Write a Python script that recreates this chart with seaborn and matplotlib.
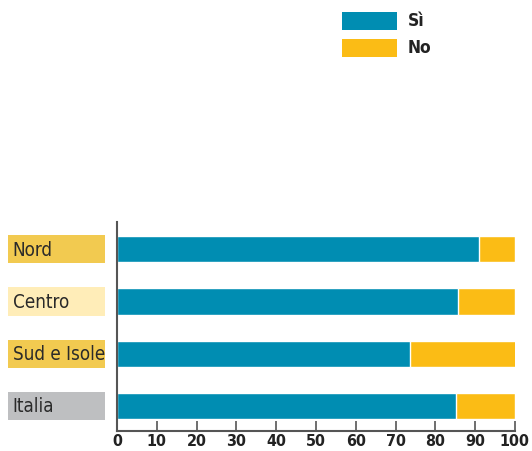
import numpy as np
import pandas as pd
import matplotlib
matplotlib.use("Agg")
import matplotlib.pyplot as plt
import matplotlib.transforms as mtransforms
from matplotlib.patches import Rectangle
import seaborn as sns

# data
regions = ["Nord", "Centro", "Sud e Isole", "Italia"]
si_values = [91.0, 85.6, 73.6, 85.1]
no_values = [9.0, 14.4, 26.6, 14.9]
label_box_colors = ["#F2CA50", "#FFEDB8", "#F2CA50", "#BEBFC1"]
x_ticks = [0, 10, 20, 30, 40, 50, 60, 70, 80, 90, 100]

blue = "#008DB2"
yellow = "#FBBC15"
axis_grey = "#555555"

sns.set_theme(style="white")
plt.rcParams["font.family"] = ["DejaVu Sans"]
plt.rcParams["font.stretch"] = "condensed"

df = pd.DataFrame({"region": regions, "si": si_values, "no": no_values})
df["total"] = df["si"] + df["no"]

fig = plt.figure(figsize=(5.32, 4.51), dpi=100)
ax = fig.add_axes([0.2199, 0.0443, 0.748, 0.4634])

# stacked bars: total first (yellow), then the Si part on top (blue)
sns.barplot(data=df, x="total", y="region", orient="h", color=yellow,
            saturation=1, width=0.5, ax=ax)
sns.barplot(data=df, x="si", y="region", orient="h", color=blue,
            saturation=1, width=0.5, ax=ax)

ax.set_xlim(0, 100)
ax.set_ylim(3.48, -0.52)
ax.set_xlabel("")
ax.set_ylabel("")
ax.set_yticks([])
ax.set_xticks(x_ticks)
ax.set_xticklabels([str(t) for t in x_ticks], fontsize=11.5, fontweight="bold",
                   color="#222222")
ax.tick_params(axis="x", direction="in", length=7, width=1.2, color=axis_grey,
               pad=2, bottom=True)

for side in ["top", "right"]:
    ax.spines[side].set_visible(False)
for side in ["left", "bottom"]:
    ax.spines[side].set_color(axis_grey)
    ax.spines[side].set_linewidth(1.5)

# coloured label boxes to the left of the axis
trans = mtransforms.blended_transform_factory(ax.transAxes, ax.transData)
for i, (name, col) in enumerate(zip(regions, label_box_colors)):
    ax.add_patch(Rectangle((-0.274, i - 0.27), 0.244, 0.54, transform=trans,
                           facecolor=col, edgecolor="none", clip_on=False))
    ax.text(-0.262, i + 0.02, name, transform=trans, fontsize=13.5,
            color="#2a2a2a", va="center", ha="left")

# legend at the top
fig.patches.append(Rectangle((342 / 532, 1 - 30 / 451), 55 / 532, 18 / 451,
                             transform=fig.transFigure, facecolor=blue,
                             edgecolor="none"))
fig.patches.append(Rectangle((342 / 532, 1 - 57 / 451), 55 / 532, 18 / 451,
                             transform=fig.transFigure, facecolor=yellow,
                             edgecolor="none"))
fig.text(408 / 532, 1 - 21 / 451, "Sì", fontsize=12.5, fontweight="bold",
         color="#222222", va="center")
fig.text(408 / 532, 1 - 48 / 451, "No", fontsize=12.5, fontweight="bold",
         color="#222222", va="center")

fig.savefig("out.png", dpi=100)
